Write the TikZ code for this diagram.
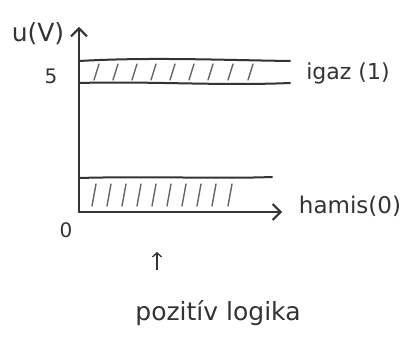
\documentclass[tikz,border=0pt]{standalone}
\usepackage{fontspec}
\setmainfont{DejaVu Sans}
\usetikzlibrary{arrows.meta}
\begin{document}
\begin{tikzpicture}[x=1pt,y=-1pt,
  ink/.style={draw=black!80, line width=2pt, line cap=round},
  hatch/.style={draw=black!60, line width=1.4pt, line cap=round},
  axis/.style={ink, -{Straight Barb[length=8pt,width=16pt,line width=2pt]}},
  lbl/.style={text=black!80, inner sep=0pt, font=\fontsize{25}{28}\selectfont},
  small/.style={lbl, font=\fontsize{20}{24}\selectfont}]
\useasboundingbox (0,0) rectangle (407,347);
% axes
\coordinate (O) at (79,212);
\coordinate (ytop) at (79,27);
\coordinate (xend) at (282,212);
\draw[axis] (O) -- (ytop);
\draw[axis] (O) -- (xend);
% top band
\coordinate (t1) at (79,61); \coordinate (t2) at (290,61);
\coordinate (t3) at (79,83); \coordinate (t4) at (290,83);
\draw[ink] (t1) .. controls (150,57) and (220,60) .. (t2);
\draw[ink] (t3) .. controls (150,81) and (220,86) .. (t4);
\foreach \x in {94,113,132,151,170,189,208,228,248}
  \draw[hatch] (\x,80) -- (\x+5,64);
% bottom band
\coordinate (b1) at (79,178); \coordinate (b2) at (272,177);
\draw[ink] (b1) .. controls (150,176) and (220,179) .. (b2);
\foreach \x in {92,107,122,137,152,167,182,197,212,228}
  \draw[hatch] (\x,206) -- (\x+4,184);
% labels
\node[lbl] (uv) at (38,34) {u(V)};
\node[small] (five) at (51,76) {5};
\node[lbl, font=\fontsize{22}{26}\selectfont] (igaz) at (348,73) {igaz (1)};
\node[lbl, font=\fontsize{23}{26}\selectfont] (hamis) at (350,206) {hamis(0)};
\node[small] (zero) at (66,230) {0};
\node[lbl] (pl) at (218,313) {pozitív logika};
\coordinate (pa) at (157,270);
\coordinate (pb) at (157,252);
\draw[draw=black!80, line width=1.3pt, -{Straight Barb[length=4pt,width=9pt]}] (pa) -- (pb);
\end{tikzpicture}
\end{document}
